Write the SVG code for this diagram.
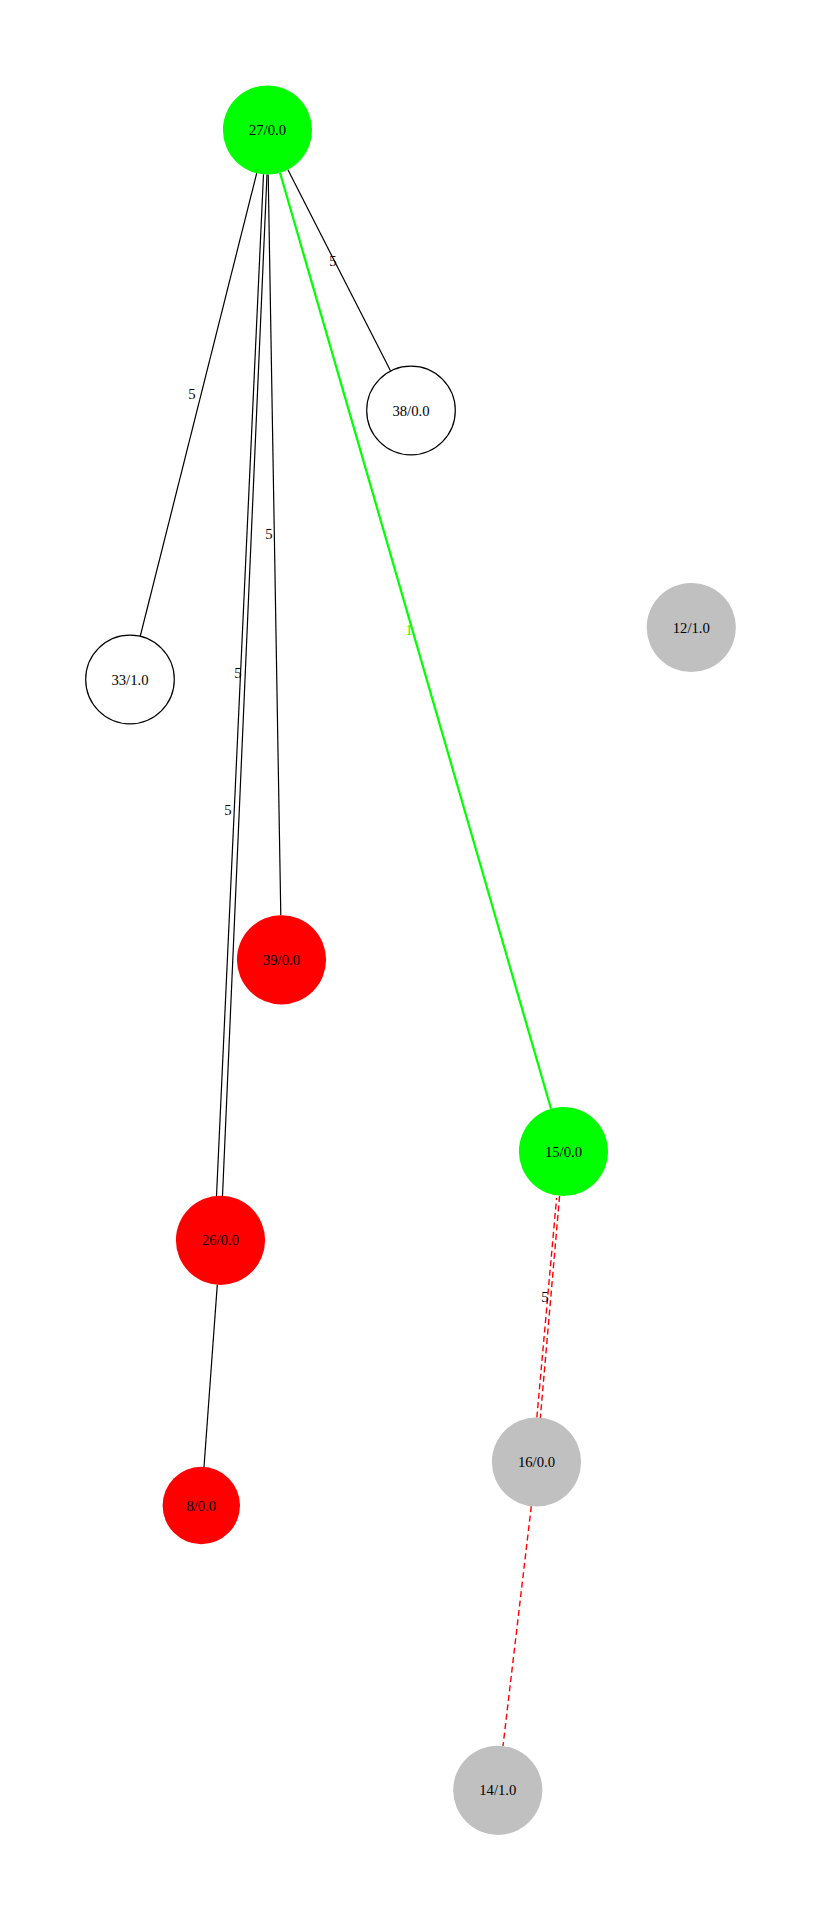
<svg xmlns="http://www.w3.org/2000/svg" width="822" height="1920" viewBox="0 0 822 1920">
<style>
text{font-family:"Liberation Serif","Times New Roman",serif;font-size:14.7px;text-anchor:middle;fill:#000}
.e{stroke:#000;stroke-width:1.2;fill:none}
.g{stroke:#00ff00;stroke-width:2.2;fill:none}
.r{stroke:#ff0000;stroke-width:1.4;fill:none;stroke-dasharray:6,3.5}
.w{fill:#fff;stroke:#000;stroke-width:1.2}
.green{fill:#00ff00}
.red{fill:#ff0000}
.grey{fill:#c0c0c0}
</style>
<rect width="822" height="1920" fill="#fff"/>
<g id="edges">
<line class="e" x1="256.7" y1="173.2" x2="140.3" y2="636"/>
<text x="192" y="399">5</text>
<line class="e" x1="287.8" y1="169.6" x2="390.5" y2="370.8"/>
<text x="333" y="266">5</text>
<line class="e" x1="268.2" y1="174.5" x2="280.8" y2="915.3"/>
<text x="269" y="539">5</text>
<line class="e" x1="263.5" y1="174.3" x2="216.5" y2="1196"/>
<line class="e" x1="267" y1="174.3" x2="222.5" y2="1196"/>
<text x="238" y="678">5</text>
<text x="228" y="815">5</text>
<line class="e" x1="217.3" y1="1284.6" x2="204" y2="1467"/>
<line class="g" x1="280" y1="172.8" x2="551" y2="1108.7"/>
<text x="409" y="635" style="fill:#00ff00">1</text>
<line class="r" x1="559.6" y1="1196" x2="540.3" y2="1418"/>
<line class="r" x1="556.6" y1="1198" x2="536.8" y2="1418" stroke-dashoffset="4"/>
<text x="545" y="1302">5</text>
<line class="r" x1="531.3" y1="1506.2" x2="503" y2="1746"/>
</g>
<g id="n27"><circle class="green" cx="267.5" cy="130" r="44.6"/><text x="267.5" y="135">27/0.0</text></g>
<g id="n38"><circle class="w" cx="411" cy="410.5" r="44.3"/><text x="411" y="415.5">38/0.0</text></g>
<g id="n33"><circle class="w" cx="130" cy="679.5" r="44.3"/><text x="130" y="684.5">33/1.0</text></g>
<g id="n12"><circle class="grey" cx="691.3" cy="627.5" r="44.6"/><text x="691.3" y="632.5">12/1.0</text></g>
<g id="n39"><circle class="red" cx="281.5" cy="959.8" r="44.6"/><text x="281.5" y="964.8">39/0.0</text></g>
<g id="n15"><circle class="green" cx="563.5" cy="1151.5" r="44.6"/><text x="563.5" y="1156.5">15/0.0</text></g>
<g id="n26"><circle class="red" cx="220.5" cy="1240.3" r="44.6"/><text x="220.5" y="1245.3">26/0.0</text></g>
<g id="n16"><circle class="grey" cx="536.5" cy="1462" r="44.6"/><text x="536.5" y="1467">16/0.0</text></g>
<g id="n8"><circle class="red" cx="201.3" cy="1505.5" r="38.7"/><text x="201.3" y="1510.5">8/0.0</text></g>
<g id="n14"><circle class="grey" cx="497.8" cy="1790.3" r="44.6"/><text x="497.8" y="1795.3">14/1.0</text></g>
</svg>
